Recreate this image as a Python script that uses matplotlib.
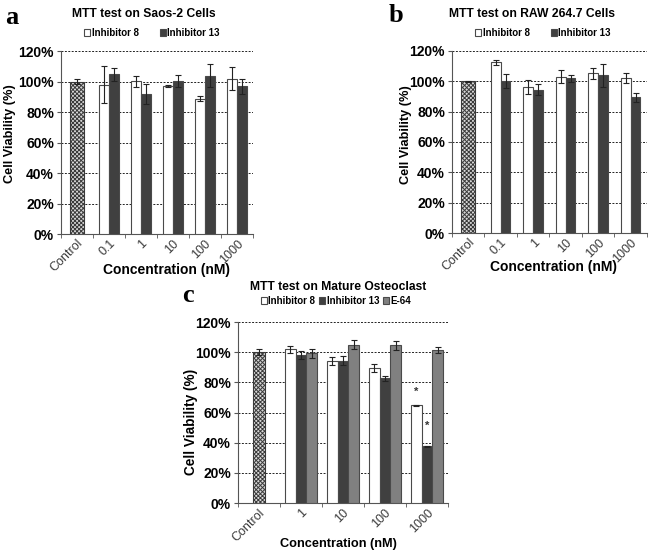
import numpy as np
import matplotlib.pyplot as plt
from matplotlib.patches import Patch

plt.rcParams['font.family'] = ['Liberation Sans', 'DejaVu Sans']
plt.rcParams['font.weight'] = 'bold'
plt.rcParams['hatch.linewidth'] = 0.7

# dados (valores em %)
cats_ab = ['Control', '0.1', '1', '10', '100', '1000']
cats_c = ['Control', '1', '10', '100', '1000']

saos_ctrl, saos_ctrl_err = 100, 1.5
saos_i8 = [98, 100.4, 96.9, 88.8, 101.9]
saos_i8_err = [12, 3.6, 0.6, 1.5, 7.4]
saos_i13 = [104.7, 91.9, 100.4, 104, 96.9]
saos_i13_err = [4, 6.5, 4, 7.8, 4.8]

raw_ctrl, raw_ctrl_err = 100, 0.5
raw_i8 = [112.5, 96.4, 103, 105.2, 102.2]
raw_i8_err = [1.5, 4.6, 4.4, 3.6, 3.3]
raw_i13 = [100.4, 94.5, 102, 103.9, 89.6]
raw_i13_err = [4.6, 3.6, 2.2, 7.7, 3.0]

ost_ctrl, ost_ctrl_err = 100, 1.8
ost_i8 = [101.8, 94.2, 89.6, 64.7]
ost_i8_err = [2.2, 2.7, 2.5, 0.6]
ost_i13 = [98.2, 94.5, 82.6, 37.6]
ost_i13_err = [2.4, 2.7, 1.6, 0.4]
ost_e64 = [99.2, 104.9, 104.6, 101.4]
ost_e64_err = [3.0, 3.0, 3.0, 2.2]
asteriscos = [(3, 0, 73.5), (3, 1, 51.5)]  # (categoria, serie, altura)

cor_branca = 'white'
cor_escura = '#404040'
cor_cinza = '#808080'
cor_borda = '#4a4a4a'
err_kw = dict(ecolor='#222222', elinewidth=0.8, capsize=2.2, capthick=0.8)


def desenhar_painel(ax, categorias, ctrl, ctrl_err, series, largura, larg_ctrl, fs_xlabel, fs_ylabel):
    x = np.arange(len(categorias))
    # barra do controle com padrao xadrez
    ax.bar(x[0], ctrl, larg_ctrl, yerr=ctrl_err, color='#d8d8d8', edgecolor='#3a3a3a',
           hatch='xxxxxxxx', linewidth=0.8, error_kw=err_kw, zorder=3)
    n = len(series)
    for i, (vals, errs, cor) in enumerate(series):
        desloc = (i - (n - 1) / 2) * largura
        ax.bar(x[1:] + desloc, vals, largura, yerr=errs, color=cor, edgecolor=cor_borda,
               linewidth=0.8, error_kw=err_kw, zorder=3)
    ax.set_xlim(-0.5, len(categorias) - 0.5)
    ax.set_ylim(0, 120)
    ax.set_yticks(np.arange(0, 121, 20))
    ax.set_yticklabels([f'{v}%' for v in range(0, 121, 20)], fontsize=10, fontweight='bold')
    ax.set_xticks(x)
    ax.set_xticklabels(categorias, rotation=45, ha='right', rotation_mode='anchor',
                       fontsize=9, fontweight='normal', color='#3a3a3a')
    ax.set_xticks(np.arange(-0.5, len(categorias)), minor=True)
    ax.tick_params(axis='x', which='major', length=0, pad=2.5)
    ax.tick_params(axis='x', which='minor', length=3, direction='out', color='#555555')
    ax.tick_params(axis='y', length=3, direction='out', color='#555555', pad=2)
    for s in ['top', 'right']:
        ax.spines[s].set_visible(False)
    for s in ['left', 'bottom']:
        ax.spines[s].set_color('#555555')
        ax.spines[s].set_linewidth(0.8)
    ax.yaxis.grid(True, linestyle=(0, (2, 1.5)), color='#222222', linewidth=0.7, zorder=0)
    ax.set_axisbelow(True)
    ax.set_ylabel('Cell Viability (%)', fontsize=fs_ylabel, fontweight='bold')
    ax.set_xlabel('Concentration (nM)', fontsize=fs_xlabel, fontweight='bold')


def legenda(fig, nomes, cores, cx, cy, espaco):
    handles = [Patch(facecolor=c, edgecolor=cor_borda, linewidth=0.8) for c in cores]
    fig.legend(handles, nomes, loc='center', bbox_to_anchor=(cx, cy), ncol=len(nomes),
               frameon=False, fontsize=7, handlelength=0.6, handleheight=0.6,
               handletextpad=0.15, columnspacing=espaco, borderpad=0)


fig = plt.figure(figsize=(6.51, 5.54), dpi=100)

# painel a
ax_a = fig.add_axes([0.0937, 0.5776, 0.295, 0.330])
desenhar_painel(ax_a, cats_ab, saos_ctrl, saos_ctrl_err,
                [(saos_i8, saos_i8_err, cor_branca), (saos_i13, saos_i13_err, cor_escura)],
                0.3, 0.43, 10, 9.2)
ax_a.xaxis.set_label_coords(0.55, -0.158)
ax_a.yaxis.set_label_coords(-0.234, 0.55)

# painel b
ax_b = fig.add_axes([0.6943, 0.5794, 0.2995, 0.3286])
desenhar_painel(ax_b, cats_ab, raw_ctrl, raw_ctrl_err,
                [(raw_i8, raw_i8_err, cor_branca), (raw_i13, raw_i13_err, cor_escura)],
                0.3, 0.43, 10, 9.2)
ax_b.xaxis.set_label_coords(0.52, -0.15)
ax_b.yaxis.set_label_coords(-0.205, 0.54)

# painel c
ax_c = fig.add_axes([0.3656, 0.092, 0.3226, 0.3267])
desenhar_painel(ax_c, cats_c, ost_ctrl, ost_ctrl_err,
                [(ost_i8, ost_i8_err, cor_branca), (ost_i13, ost_i13_err, cor_escura),
                 (ost_e64, ost_e64_err, cor_cinza)], 0.26, 0.27, 9.2, 9.8)
ax_c.xaxis.set_label_coords(0.476, -0.193)
ax_c.yaxis.set_label_coords(-0.19, 0.45)
for cat, serie, altura in asteriscos:
    ax_c.text(cat + 1 + (serie - 1) * 0.26, altura, '*', ha='center', va='center',
              fontsize=8, color='#333333')

# titulos
fig.text(144 / 651, 1 - 14 / 554, 'MTT test on Saos-2 Cells', ha='center', va='center', fontsize=8.7)
fig.text(532 / 651, 1 - 14 / 554, 'MTT test on RAW 264.7 Cells', ha='center', va='center', fontsize=8.7)
fig.text(338 / 651, 1 - 287 / 554, 'MTT test on Mature Osteoclast', ha='center', va='center', fontsize=8.7)

legenda(fig, ['Inhibitor 8', 'Inhibitor 13'], [cor_branca, cor_escura], 152 / 651, 1 - 33 / 554, 2.2)
legenda(fig, ['Inhibitor 8', 'Inhibitor 13'], [cor_branca, cor_escura], 543 / 651, 1 - 33 / 554, 2.2)
legenda(fig, ['Inhibitor 8', 'Inhibitor 13', 'E-64'], [cor_branca, cor_escura, cor_cinza],
        336 / 651, 1 - 301 / 554, 0.4)

# letras dos paineis
for letra, px, py in [('a', 12, 17), ('b', 396, 15), ('c', 188, 295)]:
    fig.text(px / 651, 1 - py / 554, letra, ha='center', va='center', fontsize=19,
             fontweight='bold', family='Liberation Serif')

fig.savefig('out.png', dpi=100)
